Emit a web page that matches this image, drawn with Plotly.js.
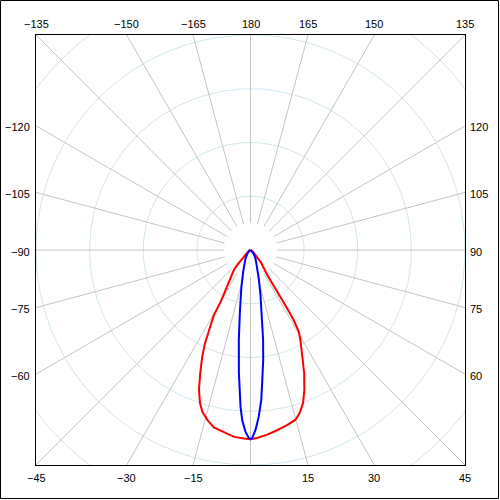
<!DOCTYPE html>
<html>
<head>
<meta charset="utf-8">
<script src="https://cdn.plot.ly/plotly-3.0.1.min.js"></script>
<style>html,body{margin:0;padding:0;background:#fff}#chart{width:500px;height:500px}</style>
</head>
<body>
<div id="chart"></div>
<script>
// ---- data (angle in degrees from nadir, intensity in chart units) ----
const redAngles = [-90,-60,-50,-45,-41.5,-40,-35,-32.5,-31,-30,-29.7,-29.4,-28,-27,-26,-24.4,-22.3,-20.3,-18.3,-16.6,-14.3,-11.7,-8.3,-5,-2,0,2,5.2,8.4,11.8,14.8,16.8,19,21.1,23.6,26.6,29,30.6,31.7,32.2,32.7,33.7,34,40.5,45,60,90];
const redValues = [0,4,9,22,37,48,65,80,97,112,125,139,158,177,194,218,247,277,300,314,326,337,343,349,351,352,350,345,339,333,327,317,301,279,250,215,192,177,153,128,103,78,56,29,13,4,0];
const blueAngles = [-90,-60,-40,-31,-18.6,-13.6,-9.8,-7.4,-5.4,-4.4,-3.65,-2.8,-1.6,-0.5,0,0.5,1.6,2.85,4.1,5.0,6.6,8.0,9.3,12.5,16.3,31,40,60,90];
const blueValues = [0,2,9,18,43,73,116,169,230,261,292,317,338,350,352,350,335,310,280,249,206,169,135,86,55,18,9,2,0];
const gridAngles = [-165,-150,-135,-120,-105,-90,-75,-60,-45,-30,-15,0,15,30,45,60,75,90,105,120,135,150,165,180];
const labelAngles = [-135,-150,-165,180,165,150,135,-120,-105,-90,-75,-60,-45,-30,-15,15,30,45,60,75,90,105,120];
const circleRadii = [100,200,300,400,500];

const H = 400;            // half range of the square view
const R0 = 50, R1 = 700;  // radial grid line extent
const rad = d => d*Math.PI/180;
const toXY = (angs, vals) => ({
  x: angs.map((a,i)=> vals[i]*Math.sin(rad(a))),
  y: angs.map((a,i)=> -vals[i]*Math.cos(rad(a)))
});

// grid circles
const cx=[], cy=[];
circleRadii.forEach(r=>{
  for(let a=0;a<=360;a+=2){cx.push(r*Math.sin(rad(a))); cy.push(-r*Math.cos(rad(a)));}
  cx.push(null); cy.push(null);
});
// radial lines
const lx=[], ly=[];
gridAngles.forEach(a=>{
  lx.push(R0*Math.sin(rad(a)), R1*Math.sin(rad(a)), null);
  ly.push(-R0*Math.cos(rad(a)), -R1*Math.cos(rad(a)), null);
});

const red = toXY(redAngles, redValues);
const blue = toXY(blueAngles, blueValues);

const traces = [
  {x:cx, y:cy, mode:'lines', line:{color:'#cfe6ee', width:1}, hoverinfo:'skip'},
  {x:lx, y:ly, mode:'lines', line:{color:'#c4c4c4', width:1}, hoverinfo:'skip'},
  {x:red.x, y:red.y, mode:'lines', line:{color:'#ff0000', width:2}},
  {x:blue.x, y:blue.y, mode:'lines', line:{color:'#0000ff', width:2}}
];

// labels where each ray meets the frame
const fmt = a => (a<0 ? '\u2212'+Math.abs(a) : String(a));
const annotations = labelAngles.map(a=>{
  const s=Math.sin(rad(a)), c=-Math.cos(rad(a));
  const t = H/Math.max(Math.abs(s),Math.abs(c));
  const px=t*s, py=t*c;
  const base = {text:fmt(a), showarrow:false, xref:'x', yref:'y', borderpad:0,
                font:{family:'Liberation Sans, Arial, sans-serif', size:11, color:'#000'}};
  if (Math.abs(c) >= Math.abs(s)-1e-9) {
    if (c>0) return Object.assign(base,{x:px,y:H,xanchor:'center',yanchor:'bottom',yshift:4});
    return Object.assign(base,{x:px,y:-H,xanchor:'center',yanchor:'top',yshift:-6});
  }
  if (s<0) return Object.assign(base,{x:-H,y:py,xanchor:'right',yanchor:'middle',xshift:-5,yshift:-1.5});
  return Object.assign(base,{x:H,y:py,xanchor:'left',yanchor:'middle',xshift:4,yshift:-1.5});
});

const ml=36, mr=35, mt=35, mb=35, W=500, Ht=500;
const pw=W-ml-mr, ph=Ht-mt-mb;
const shapes=[{type:'rect', xref:'paper', yref:'paper',
  x0:(0.5-ml)/pw, x1:(W-1.5-ml)/pw, y0:(Ht-(Ht-1.5)-mb)/ph, y1:(Ht-0.5-mb)/ph,
  line:{color:'#000', width:1}, fillcolor:'rgba(0,0,0,0)'}];

const axis = {range:[-H,H], showgrid:false, zeroline:false, showticklabels:false, ticks:'',
  showline:true, mirror:true, linecolor:'#000', linewidth:1, fixedrange:true};

Plotly.newPlot('chart', traces, {
  width:W, height:Ht, margin:{l:ml,r:mr,t:mt,b:mb},
  paper_bgcolor:'#fff', plot_bgcolor:'#fff', showlegend:false,
  xaxis:Object.assign({},axis), yaxis:Object.assign({},axis),
  annotations, shapes
}, {staticPlot:true, displayModeBar:false});
</script>
</body>
</html>
